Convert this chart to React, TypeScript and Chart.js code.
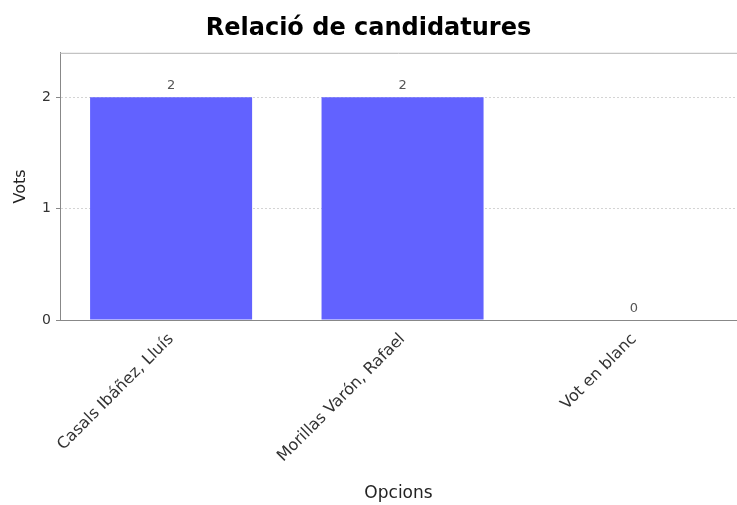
import React, { useEffect, useRef } from "react";
import { Chart, registerables } from "chart.js";

Chart.register(...registerables);

const categories = ["Casals Ibáñez, Lluís", "Morillas Varón, Rafael", "Vot en blanc"];
const votes = [2, 2, 0];
const yTickValues = [0, 1, 2];
const chartTitle = "Relació de candidatures";
const xTitle = "Opcions";
const yTitle = "Vots";

const FONT = "'DejaVu Sans', sans-serif";

const extrasPlugin = {
  id: "extras",
  afterDatasetsDraw(chart: any) {
    const ctx = chart.ctx;
    const area = chart.chartArea;
    ctx.save();
    ctx.strokeStyle = "#b4b4b4";
    ctx.lineWidth = 1;
    ctx.beginPath();
    ctx.moveTo(area.left, area.top + 0.5);
    ctx.lineTo(area.right, area.top + 0.5);
    ctx.stroke();
    const meta = chart.getDatasetMeta(0);
    ctx.fillStyle = "#555";
    ctx.font = `13px ${FONT}`;
    ctx.textAlign = "center";
    ctx.textBaseline = "bottom";
    meta.data.forEach((el: any, i: number) => {
      const v = chart.data.datasets[0].data[i].y;
      ctx.fillText(String(v), el.x, el.y - 5);
    });
    ctx.restore();
  },
};

export default function App() {
  const ref = useRef<HTMLCanvasElement | null>(null);
  useEffect(() => {
    if (!ref.current) return;
    const chart = new Chart(ref.current, {
      type: "bar",
      data: {
        datasets: [
          {
            data: votes.map((v, i) => ({ x: i, y: v })),
            backgroundColor: "#6262ff",
            borderWidth: 0,
            barPercentage: 0.7,
            categoryPercentage: 1,
          },
        ],
      },
      options: {
        animation: false,
        responsive: false,
        devicePixelRatio: 1,
        layout: { padding: { left: 0, right: 0, top: 0, bottom: 0 } },
        plugins: {
          legend: { display: false },
          tooltip: { enabled: false },
          title: {
            display: true,
            text: chartTitle,
            color: "#000",
            font: { family: FONT, size: 24, weight: "bold" },
            padding: { top: 14, bottom: 10 },
          },
        },
        scales: {
          x: {
            type: "linear",
            offset: false,
            min: -0.48,
            max: 2.445,
            afterFit: (axis: any) => {
              axis.height = 185;
            },
            afterBuildTicks: (axis: any) => {
              axis.ticks = categories.map((_, i) => ({ value: i }));
            },
            ticks: {
              callback: (v: any) => categories[Number(v)] ?? "",
              maxRotation: 45,
              minRotation: 45,
              autoSkip: false,
              color: "#333",
              font: { family: FONT, size: 16 },
              padding: 2,
            },
            grid: { display: false, offset: false },
            border: { display: true, color: "#888", width: 1 },
            title: {
              display: true,
              text: xTitle,
              color: "#222",
              font: { family: FONT, size: 17 },
              padding: { top: 0, bottom: 1 },
            },
          },
          y: {
            min: 0,
            max: 2.4,
            afterFit: (axis: any) => {
              axis.width = 60;
            },
            afterBuildTicks: (axis: any) => {
              axis.ticks = yTickValues.map((v) => ({ value: v }));
            },
            ticks: {
              color: "#333",
              font: { family: FONT, size: 14 },
              padding: 5,
            },
            grid: {
              color: (c: any) => (c.tick && c.tick.value === 0 ? "rgba(0,0,0,0)" : "#d4d4d4"),
              tickColor: "#888",
              tickLength: 4,
              drawTicks: true,
            },
            border: { display: true, color: "#888", width: 1, dash: [2, 2] },
            title: {
              display: true,
              text: yTitle,
              color: "#222",
              font: { family: FONT, size: 16 },
              padding: { top: 11, bottom: 0 },
            },
          },
        },
      } as any,
      plugins: [extrasPlugin],
    });
    return () => chart.destroy();
  }, []);
  return (
    <div style={{ position: "fixed", left: 0, top: 0, width: 737, height: 505, background: "#fff" }}>
      <canvas ref={ref} width={737} height={505} />
    </div>
  );
}
